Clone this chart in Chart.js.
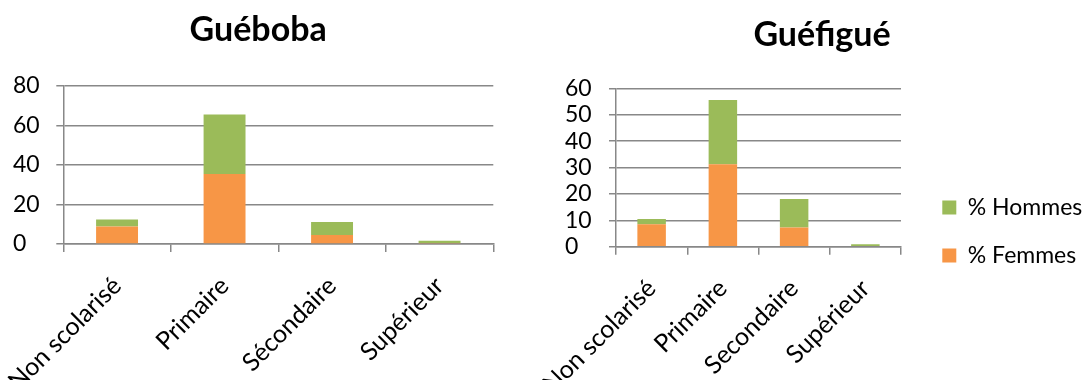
<!DOCTYPE html>
<html>
<head>
<meta charset="utf-8">
<script src="https://cdn.jsdelivr.net/npm/chart.js@4/dist/chart.umd.min.js"></script>
<style>
  html, body { margin: 0; padding: 0; background: #fff; width: 1088px; height: 380px; overflow: hidden; }
  .box { position: absolute; top: 0; height: 380px; }
  #b1 { left: 0; width: 516px; }
  #b2 { left: 500px; width: 588px; }
</style>
</head>
<body>
<div class="box" id="b1"><canvas id="c1"></canvas></div>
<div class="box" id="b2"><canvas id="c2"></canvas></div>
<script>
// ---- data ----
const categoriesGueboba = ["Non scolarisé", "Primaire", "Sécondaire", "Supérieur"];
const categoriesGuefigue = ["Non scolarisé", "Primaire", "Secondaire", "Supérieur"];
const femmesGueboba = [8.8, 35.4, 4.6, 0.5];
const hommesGueboba = [3.6, 30.2, 6.5, 1.2];
const femmesGuefigue = [8.5, 31.2, 7.3, 0];
const hommesGuefigue = [2.0, 24.4, 10.8, 0.9];
const titleGueboba = "Guéboba";
const titleGuefigue = "Guéfigué";
const labelFemmes = "% Femmes";
const labelHommes = "% Hommes";
const yTicksGueboba = { max: 80, step: 20 };
const yTicksGuefigue = { max: 60, step: 10 };

// ---- styles ----
const ORANGE = "#F79646";
const GREEN = "#9BBB59";
const GRID = "#888888";
const FONT = "Lato, 'Open Sans', sans-serif";
const Y_TICK_SIZE = 23;
const X_TICK_SIZE = 25;

Chart.defaults.font.family = FONT;
Chart.defaults.color = "#000";
Chart.defaults.animation = false;

function makeChart(canvasId, cats, fem, hom, title, yt, cfg) {
  const plugins = [{
    id: "boxPlace",
    beforeLayout(chart) {
      const lg = chart.legend;
      if (cfg.legendBox && lg && !lg._patched) {
        const orig = lg.fit.bind(lg);
        lg.fit = function () { orig(); this.width = cfg.legendBox.w; };
        lg._patched = true;
      }
    },
    afterLayout(chart) {
      const t = chart.titleBlock;
      if (t && cfg.titleDx) { t.left += cfg.titleDx; t.right += cfg.titleDx; }
      const lg = chart.legend;
      if (cfg.legendBox && lg) {
        const h = lg.height;
        lg.left = cfg.legendBox.left;
        lg.right = cfg.legendBox.left + cfg.legendBox.w;
        lg.top = cfg.legendBox.top;
        lg.bottom = cfg.legendBox.top + h;
      }
    }
  }];
  return new Chart(document.getElementById(canvasId), {
    type: "bar",
    data: {
      labels: cats,
      datasets: [
        { label: labelFemmes, data: fem, backgroundColor: ORANGE, borderWidth: 0,
          barPercentage: cfg.barPct, categoryPercentage: 1 },
        { label: labelHommes, data: hom, backgroundColor: GREEN, borderWidth: 0,
          barPercentage: cfg.barPct, categoryPercentage: 1 }
      ]
    },
    options: {
      responsive: true,
      maintainAspectRatio: false,
      events: [],
      layout: { padding: { left: cfg.padLeft, right: cfg.padRight, top: 0, bottom: 0 } },
      plugins: {
        title: {
          display: true, text: title,
          font: { size: 34, weight: "bold", family: FONT },
          color: "#000",
          padding: { top: cfg.titleTop, bottom: cfg.titleBottom }
        },
        legend: cfg.legendBox ? {
          display: true, position: "right", align: "start", reverse: true,
          labels: { boxWidth: 14, boxHeight: 14, padding: 25,
                    font: { size: 23, family: FONT }, color: "#000" }
        } : { display: false },
        tooltip: { enabled: false }
      },
      scales: {
        x: {
          stacked: true,
          offset: true,
          grid: { display: true, drawOnChartArea: false, drawTicks: true, tickLength: 8,
                  color: GRID, lineWidth: 1.5, offset: true },
          border: { display: true, color: GRID, width: 1.5 },
          ticks: { autoSkip: false, minRotation: 45, maxRotation: 45, padding: 19,
                   font: { size: X_TICK_SIZE, family: FONT }, color: "#000" },
          afterFit(scale) {
            scale.height = cfg.xHeight;
            scale.paddingLeft = 0;
            scale.paddingRight = 0;
          }
        },
        y: {
          stacked: true,
          min: 0, max: yt.max,
          grid: { color: GRID, lineWidth: 1.5, drawTicks: true, tickLength: 7 },
          border: { display: true, color: GRID, width: 1.5 },
          ticks: { stepSize: yt.step, autoSkip: false, crossAlign: "far", padding: 4,
                   font: { size: Y_TICK_SIZE, family: FONT }, color: "#000" },
          afterFit(scale) { scale.width = cfg.yWidth; }
        }
      }
    },
    plugins
  });
}

makeChart("c1", categoriesGueboba, femmesGueboba, hommesGueboba, titleGueboba, yTicksGueboba, {
  barPct: 0.39, padLeft: 13, padRight: 22.7, yWidth: 50.3, xHeight: 136,
  titleTop: 10, titleBottom: 35.2, titleDx: 5
});
makeChart("c2", categoriesGuefigue, femmesGuefigue, hommesGuefigue, titleGuefigue, yTicksGuefigue, {
  barPct: 0.40, padLeft: 65, padRight: 0, yWidth: 51, xHeight: 133.3,
  titleTop: 15, titleBottom: 32.5, titleDx: -4.5,
  legendBox: { left: 417.3, top: 171, w: 187 }
});
</script>
</body>
</html>
